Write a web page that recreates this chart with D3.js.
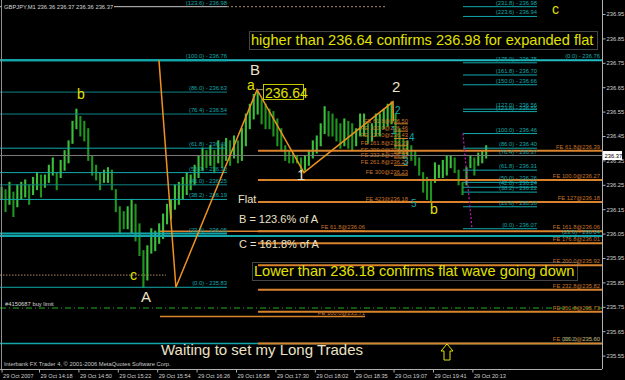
<!DOCTYPE html>
<html><head><meta charset="utf-8">
<script src="https://cdn.jsdelivr.net/npm/d3@7"></script>
<style>body{margin:0;background:#000;}svg{display:block;}</style>
</head><body>
<script>
// ---------------- DATA ----------------
const sampleStep = 2; // bars per sample
const highs = [236.24,236.23,236.26,236.22,236.25,236.26,236.27,236.25,236.28,236.30,
236.29,236.29,236.33,236.36,236.30,236.35,236.39,236.43,236.51,236.56,
236.53,236.51,236.48,236.37,236.33,236.30,236.31,236.32,236.31,236.23,
236.16,236.14,236.16,236.19,236.17,236.09,235.98,236.00,236.07,236.06,
236.09,236.13,236.17,236.19,236.25,236.26,236.28,236.30,236.29,236.33,
236.37,236.40,236.39,236.41,236.39,236.43,236.41,236.44,236.43,236.45,
236.43,236.48,236.54,236.58,236.62,236.63,236.60,236.58,236.56,236.55,
236.52,236.48,236.41,236.39,236.38,236.37,236.36,236.37,236.39,236.43,
236.45,236.50,236.57,236.55,236.54,236.52,236.50,236.52,236.51,236.50,
236.48,236.54,236.54,236.50,236.50,236.54,236.54,236.56,236.58,236.59,
236.54,236.48,236.44,236.43,236.41,236.39,236.36,236.30,236.28,236.27,
236.34,236.33,236.35,236.37,236.37,236.36,236.31,236.26,236.32,236.37,
236.36,236.38,236.39,236.41];
const lows = [236.19,236.14,236.17,236.12,236.16,236.19,236.20,236.17,236.21,236.23,
236.20,236.24,236.26,236.29,236.23,236.28,236.31,236.34,236.42,236.48,
236.45,236.43,236.35,236.29,236.27,236.23,236.26,236.26,236.23,236.14,
236.05,236.07,236.07,236.05,236.02,235.96,235.83,235.86,235.97,235.98,
236.01,236.03,236.09,236.11,236.15,236.17,236.19,236.21,236.23,236.25,
236.28,236.31,236.32,236.33,236.30,236.34,236.32,236.35,236.33,236.36,
236.34,236.35,236.41,236.48,236.52,236.54,236.50,236.48,236.48,236.45,
236.41,236.39,236.35,236.34,236.34,236.34,236.30,236.31,236.33,236.36,
236.38,236.41,236.46,236.45,236.45,236.43,236.40,236.41,236.40,236.39,
236.41,236.45,236.45,236.42,236.43,236.45,236.45,236.48,236.49,236.50,
236.40,236.38,236.36,236.37,236.35,236.33,236.29,236.22,236.19,236.18,
236.26,236.28,236.28,236.29,236.32,236.30,236.25,236.21,236.25,236.32,
236.29,236.33,236.34,236.36];

const timeLabels = ["29 Oct 2007","29 Oct 14:18","29 Oct 14:50","29 Oct 15:22","29 Oct 15:54","29 Oct 16:26",
  "29 Oct 16:58","29 Oct 17:30","29 Oct 18:02","29 Oct 18:35","29 Oct 19:07","29 Oct 19:41","29 Oct 20:13"];
const timeTickBars = [1,20,40,60,80,100,120,140,160,180,200,220,240];
const priceTicks = [236.95,236.85,236.75,236.65,236.55,236.45,236.35,236.25,236.15,236.05,235.95,235.85,235.75,235.65,235.55];

const leftFibLevels = ["123.6","100.0","86.0","76.4","61.8","50.0","45.0","38.2","23.6","0.0"];
const leftFibPrices = [236.98,236.76,236.63,236.54,236.40,236.30,236.25,236.19,236.05,235.83];
const rightFibLevels = ["231.8","223.6","175.0","161.8","150.0","127.0","123.6","100.0","86.0","76.4","61.8","50.0","42.0","38.2","23.6","0.0"];
const rightFibPrices = [236.98,236.94,236.75,236.70,236.66,236.56,236.55,236.46,236.40,236.37,236.31,236.26,236.24,236.22,236.16,236.07];
const longFibLevels = ["0.0","23.6","38.2"];
const longFibPrices = [236.76,236.04,235.60];

const feLabels = ["FE 61.8@236.39","FE 100.0@236.27","FE 127@236.18","FE 161.8@236.06","FE 176.8@236.01","FE 200.0@235.92","FE 232.8@235.82","FE 261.8@235.73","FE 300.0@235.60"];
const fePrices = [236.39,236.27,236.18,236.06,236.01,235.92,235.82,235.73,235.60];
const feMidLabels = ["FE 61.8@236.06","FE 100.0@235.71"];
const feMidPrices = [236.06,235.71];
const feSmallLabels = ["FE 61.8@236.50","FE 100.0@236.46","FE 127.0@236.43","FE 161.8@236.39","FE 200.0@236.35","FE 232.8@236.32","FE 261.8@236.29","FE 300@236.23","FE 423@236.18"];
const feSmallPrices = [236.50,236.47,236.44,236.41,236.38,236.36,236.33,236.29,236.18];

const waveBars = [80.9,89.5,130.7,154.5,199.7,199.9];
const wavePrices = [236.76,235.83,236.64,236.30,236.59,236.51];

const currentPrice = 236.37;
const buyLimitPrice = 235.745;
const cLevelPrice = 235.88;
const peakLabel = "236.64";

const waveLabelText = ["b","c","A","B","a","1","2","b","c"];
const waveLabelBars = [39.3,66.2,71.8,127.1,125.6,151,199.2,218.5,280.4];
const waveLabelPrices = [236.60,235.86,235.77,236.70,236.64,236.27,236.63,236.13,236.95];
const waveLabelKind = ["y","y","w","w","y","w","w","y","y"];
const subLabelText = ["1","2","3","4","5"];
const subLabelBars = [198.7,200.7,204.8,207.8,208.8];
const subLabelPrices = [236.46,236.54,236.33,236.43,236.16];

// ---------------- DRAW ----------------
const W = 625, H = 380, PR = 602, PB = 369;
const TINY = "'Liberation Sans', Arial, sans-serif";
const YEL = "#e2e200", BEI = "#ece2c6", TEAL = "#12a8ab", ORG = "#d9832c", ORGT = "#c8742a";
const svg = d3.select("body").append("svg").attr("width", W).attr("height", H).style("background", "#000");
const x = d3.scaleLinear().domain([0, 306]).range([-0.4, 602.4]);
const y = d3.scaleLinear().domain([235.55, 236.95]).range([355.6, 14]);

svg.append("clipPath").attr("id", "plot").append("rect").attr("x", 0).attr("y", 0).attr("width", PR).attr("height", PB);
const plot = svg.append("g").attr("clip-path", "url(#plot)");

// price bars
const mids = highs.map((h, i) => (h + lows[i]) / 2);
plot.append("g").selectAll("line").data(highs).join("line")
  .attr("x1", (d, i) => x(i * sampleStep + 1)).attr("x2", (d, i) => x(i * sampleStep + 1))
  .attr("y1", d => y(d) - 0.5).attr("y2", (d, i) => y(lows[i]) + 0.5)
  .attr("stroke", (d, i) => (i > 0 && mids[i] < mids[i - 1]) ? "#1f951f" : "#3cc03c")
  .attr("stroke-width", 2.1);

// helper for horizontal levels
function hline(p, x0, x1, color, w, dash) {
  plot.append("line").attr("x1", x0).attr("x2", x1).attr("y1", y(p)).attr("y2", y(p))
    .attr("stroke", color).attr("stroke-width", w || 1).attr("stroke-dasharray", dash || null);
}
function tiny(t, px, py, color, anchor) {
  return svg.append("text").attr("x", px).attr("y", py).attr("fill", color)
    .attr("font-family", TINY).attr("font-size", 5.8).attr("text-anchor", anchor || "start").text(t);
}

// long fib (full width)
longFibPrices.forEach((p, i) => {
  hline(p, 0, PR, i === 0 ? "#22bcc2" : TEAL, i === 2 ? 1.5 : 2);
  tiny(`(${longFibLevels[i]}) - ${p.toFixed(2)}`, 600, y(p) - 2, TEAL, "end");
});
// left fib
leftFibPrices.forEach((p, i) => {
  const col = i === 0 ? "#c8c8c8" : (i === 2 || i === 3 || i === 6) ? "#0e8486" : TEAL;
  hline(p, 0, 227, col, (i === 1 || i === 8) ? 2 : 1);
  tiny(`(${leftFibLevels[i]}) - ${p.toFixed(2)}`, 227, y(p) - 2, TEAL, "end");
});
hline(leftFibPrices[0], 227, 387, "#a88a6a", 1, "2,2");
// right fib
rightFibPrices.forEach((p, i) => {
  hline(p, 463, 537, TEAL, 1);
  tiny(`(${rightFibLevels[i]}) - ${p.toFixed(2)}`, 537, y(p) - 2, TEAL, "end");
});
// current price line
hline(currentPrice, 0, PR, "#7a7a7a", 1);
// buy limit
hline(buyLimitPrice, 0, PR, "#1fb01f", 1, "6,3,1,3");
// c dotted level
hline(cLevelPrice, 0, 166, "#b48c64", 1, "1.5,1.5");
// FE lines
fePrices.forEach((p, i) => {
  hline(p, 258, PR, ORG, 2);
  tiny(feLabels[i], 600, y(p) - 2, ORGT, "end");
});
feMidPrices.forEach((p, i) => {
  hline(p, 160, 365, ORG, 1.5);
  tiny(feMidLabels[i], 365, y(p) - 2, ORGT, "end");
});
feSmallPrices.forEach((p, i) => {
  hline(p, 394, 408, ORG, 1);
  tiny(feSmallLabels[i], 408, y(p) - 1, ORGT, "end");
});

// wave trendlines
const wpts = waveBars.map((b, i) => [x(b), y(wavePrices[i])]);
plot.append("path").attr("d", d3.line()(wpts)).attr("fill", "none").attr("stroke", "#f0911e").attr("stroke-width", 1.5);

// magenta dotted
plot.append("line").attr("x1", x(235.2)).attr("y1", y(236.46)).attr("x2", x(239.8)).attr("y2", y(236.07))
  .attr("stroke", "#c21ec2").attr("stroke-width", 1.2).attr("stroke-dasharray", "2,2");

// axes
svg.append("line").attr("x1", PR + 0.5).attr("x2", PR + 0.5).attr("y1", 0).attr("y2", PB).attr("stroke", "#b0b0b0");
svg.append("line").attr("x1", 0).attr("x2", PR).attr("y1", PB + 0.5).attr("y2", PB + 0.5).attr("stroke", "#b0b0b0");
svg.append("line").attr("x1", 1.5).attr("x2", 1.5).attr("y1", 0).attr("y2", PB).attr("stroke", "#909090");

const gy = svg.append("g").attr("transform", `translate(${PR + 0.5},0)`)
  .call(d3.axisRight(y).tickValues(priceTicks).tickFormat(d3.format(".2f")).tickSize(3).tickSizeOuter(0));
gy.select(".domain").remove();
gy.selectAll("line").attr("stroke", "#b0b0b0");
gy.selectAll("text").attr("x", 4).attr("fill", "#d0d0d0").attr("font-family", TINY).attr("font-size", 5.8);

const gx = svg.append("g").attr("transform", `translate(0,${PB + 0.5})`)
  .call(d3.axisBottom(x).tickValues(timeTickBars).tickFormat((d, i) => timeLabels[i]).tickSize(3).tickSizeOuter(0));
gx.select(".domain").remove();
gx.selectAll("line").attr("stroke", "#b0b0b0");
gx.selectAll("text").attr("text-anchor", "start").attr("x", 1).attr("y", 8.5).attr("dy", 0)
  .attr("fill", "#d0d0d0").attr("font-family", TINY).attr("font-size", 5.6);

// current price box
svg.append("rect").attr("x", 603).attr("y", y(currentPrice) - 4.5).attr("width", 19).attr("height", 9).attr("fill", "#fff");
svg.append("text").attr("x", 604.5).attr("y", y(currentPrice) + 2.3).attr("fill", "#000")
  .attr("font-family", TINY).attr("font-size", 5.8).text(currentPrice.toFixed(2));

// ticker header
svg.append("rect").attr("x", 2).attr("y", 1).attr("width", 112).attr("height", 10).attr("fill", "#000");
tiny("GBPJPY,M1  236.36 236.37 236.36 236.37", 4, 9, "#d8d8d8");
tiny("#4150687 buy limit", 5, 306, "#d8d8d8");
tiny("Interbank FX Trader 4, \u00a9 2001-2006 MetaQuotes Software Corp.", 4, 366, "#c8c8c8");

// peak label box
const pk = [x(waveBars[2]), y(wavePrices[2])];
svg.append("line").attr("x1", pk[0]).attr("x2", 264).attr("y1", pk[1]).attr("y2", pk[1]).attr("stroke", "#999");
svg.append("rect").attr("x", 263.5).attr("y", 84.5).attr("width", 40).attr("height", 15).attr("fill", "none").attr("stroke", "#c8c800");
svg.append("text").attr("x", 265).attr("y", 97.5).attr("fill", YEL).attr("font-family", "Arial, 'Liberation Sans', sans-serif").attr("font-size", 14).text(peakLabel);

// wave labels
waveLabelText.forEach((t, i) => {
  svg.append("text").attr("x", x(waveLabelBars[i])).attr("y", y(waveLabelPrices[i]))
    .attr("fill", waveLabelKind[i] === "y" ? YEL : BEI)
    .attr("font-family", "Arial, 'Liberation Sans', sans-serif")
    .attr("font-size", waveLabelKind[i] === "y" ? 14 : 15).text(t);
});
subLabelText.forEach((t, i) => {
  svg.append("text").attr("x", x(subLabelBars[i])).attr("y", y(subLabelPrices[i]))
    .attr("fill", TEAL).attr("font-family", "Arial, 'Liberation Sans', sans-serif").attr("font-size", 10).text(t);
});

// notes
const ARIAL = "Arial, 'Liberation Sans', sans-serif";
svg.append("rect").attr("x", 249.5).attr("y", 31.5).attr("width", 348).attr("height", 18).attr("fill", "none").attr("stroke", "#8a8a8a").attr("stroke-dasharray", "1,1");
svg.append("text").attr("x", 251).attr("y", 45).attr("fill", YEL).attr("font-family", ARIAL).attr("font-size", 14.6)
  .text("higher than 236.64 confirms 236.98 for expanded flat");
svg.append("rect").attr("x", 252.5).attr("y", 262.5).attr("width", 325).attr("height", 18).attr("fill", "none").attr("stroke", "#8a8a8a").attr("stroke-dasharray", "1,1");
svg.append("text").attr("x", 254).attr("y", 276).attr("fill", YEL).attr("font-family", ARIAL).attr("font-size", 14.6)
  .text("Lower than 236.18 confirms flat wave going down");
svg.append("text").attr("x", 238).attr("y", 203).attr("fill", BEI).attr("font-family", ARIAL).attr("font-size", 11).text("Flat");
svg.append("text").attr("x", 239).attr("y", 223).attr("fill", BEI).attr("font-family", ARIAL).attr("font-size", 11).text("B = 123.6% of A");
svg.append("text").attr("x", 239).attr("y", 248).attr("fill", BEI).attr("font-family", ARIAL).attr("font-size", 11).text("C = 161.8% of A");
svg.append("text").attr("x", 161).attr("y", 355).attr("fill", BEI).attr("font-family", ARIAL).attr("font-size", 15).text("Waiting to set my Long Trades");

// up arrow
const ax = 447, ay = 344;
svg.append("path").attr("d", `M${ax},${ay} L${ax + 6},${ay + 7} L${ax + 3},${ay + 7} L${ax + 3},${ay + 16} L${ax - 3},${ay + 16} L${ax - 3},${ay + 7} L${ax - 6},${ay + 7} Z`)
  .attr("fill", "none").attr("stroke", YEL).attr("stroke-width", 1);
</script>
</body></html>
